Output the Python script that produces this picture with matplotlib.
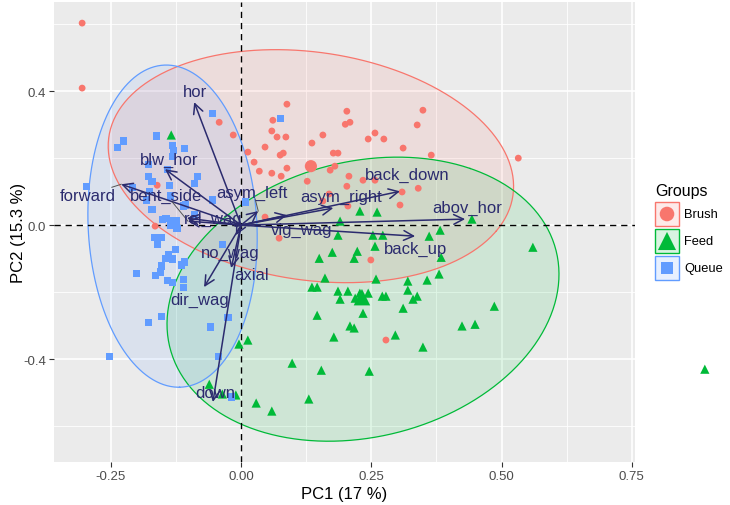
import numpy as np
import matplotlib
matplotlib.use("Agg")
import matplotlib.pyplot as plt
from matplotlib.patches import Rectangle

plt.rcParams['font.family'] = ['Liberation Sans', 'DejaVu Sans']

# ---------------- data ----------------
groups = ["Brush", "Feed", "Queue"]
colors = ["#F8766D", "#00BA38", "#619CFF"]
markers = ["o", "^", "s"]

brush_pc1 = [0.088, 0.203, 0.349, 0.061, 0.200, 0.209, 0.338, 0.059, 0.069, 0.086,
             0.157, 0.244, 0.257, 0.274, 0.136, 0.046, 0.013, 0.311, 0.075, 0.081,
             0.177, 0.186, 0.365, 0.532, 0.025, 0.088, 0.171, 0.180, 0.035, 0.059,
             0.077, 0.127, 0.207, 0.203, 0.234, 0.257, 0.340, 0.309, 0.169, 0.305,
             0.157, 0.205, 0.046, 0.073, 0.249, 0.278, -0.161, -0.042, -0.015, -0.165,
             -0.305, -0.305]
brush_pc2 = [0.361, 0.340, 0.343, 0.313, 0.301, 0.307, 0.299, 0.281, 0.263, 0.263,
             0.269, 0.257, 0.275, 0.257, 0.245, 0.233, 0.218, 0.230, 0.209, 0.215,
             0.215, 0.215, 0.209, 0.200, 0.188, 0.170, 0.164, 0.176, 0.161, 0.155,
             0.146, 0.131, 0.146, 0.116, 0.134, 0.134, 0.110, 0.099, 0.093, 0.060,
             0.072, 0.057, 0.024, -0.039, -0.104, -0.343, 0.119, 0.307, 0.269, -0.003,
             0.409, 0.603]

feed_pc1 = [-0.134, 0.228, 0.261, 0.190, 0.443, 0.382, 0.361, 0.560, 0.186, 0.253,
            0.272, 0.257, 0.223, 0.217, 0.175, 0.150, 0.384, 0.380, 0.161, 0.259,
            0.320, 0.357, 0.136, 0.146, 0.186, 0.205, 0.320, 0.190, 0.219, 0.228,
            0.234, 0.244, 0.271, 0.278, 0.330, 0.338, 0.311, 0.486, 0.146, 0.234,
            0.209, 0.217, 0.424, 0.449, 0.178, 0.296, 0.349, 0.154, 0.246, 0.130,
            0.013, -0.004, 0.098, 0.029, 0.059, -0.061, -0.010, 0.890, -0.036]
feed_pc2 = [0.269, 0.042, 0.039, 0.012, 0.018, -0.015, -0.033, -0.066, -0.030, -0.030,
            -0.030, -0.063, -0.078, -0.099, -0.081, -0.099, -0.096, -0.146, -0.158, -0.161,
            -0.167, -0.164, -0.185, -0.185, -0.197, -0.197, -0.194, -0.221, -0.218, -0.203,
            -0.221, -0.203, -0.212, -0.212, -0.221, -0.212, -0.248, -0.242, -0.269, -0.263,
            -0.301, -0.307, -0.301, -0.296, -0.334, -0.328, -0.364, -0.433, -0.436, -0.519,
            -0.343, -0.355, -0.412, -0.531, -0.555, -0.475, -0.507, -0.430, -0.504]

queue_pc1 = [-0.054, 0.075, -0.225, -0.238, -0.163, -0.132, -0.109, -0.130, -0.132, -0.177,
             -0.142, -0.178, -0.171, -0.138, -0.084, -0.090, -0.297, -0.209, -0.175, -0.182,
             -0.171, -0.111, -0.054, -0.090, 0.008, -0.144, -0.127, -0.123, -0.167, -0.152,
             -0.125, -0.161, -0.035, -0.140, -0.144, -0.132, -0.109, -0.115, -0.201, -0.165,
             -0.154, -0.152, -0.142, -0.132, -0.111, -0.177, -0.152, -0.058, -0.025, -0.253,
             -0.044, -0.019, -0.106, -0.150, -0.136, -0.111]
queue_pc2 = [0.334, 0.319, 0.251, 0.233, 0.266, 0.239, 0.230, 0.224, 0.206, 0.182,
             0.167, 0.146, 0.131, 0.119, 0.146, 0.125, 0.116, 0.113, 0.101, 0.075,
             0.048, 0.057, 0.075, 0.033, 0.069, 0.021, 0.003, -0.009, -0.036, -0.036,
             -0.072, -0.057, -0.057, -0.087, -0.099, -0.101, -0.110, -0.119, -0.143, -0.149,
             -0.140, -0.122, -0.164, -0.170, -0.161, -0.290, -0.272, -0.304, -0.275, -0.391,
             -0.391, -0.513, 0.060, 0.018, 0.087, -0.185]

# group means
mean_pc1 = [0.134, 0.232, -0.130]
mean_pc2 = [0.176, -0.215, 0.006]

# 95% ellipses: centre, semi-axes, rotation (deg) in data units
ell_cx = [0.134, 0.234, -0.1315]
ell_cy = [0.176, -0.221, -0.003]
ell_a = [0.405, 0.441, 0.481]
ell_b = [0.329, 0.356, 0.162]
ell_theta = [-28.5, 62.2, -88.4]

# variable loadings (arrow tips)
var_names = ["hor", "blw_hor", "forward", "bent_side", "rel_wag", "asym_left",
             "asym_right", "back_down", "abov_hor", "vig_wag", "back_up", "no_wag",
             "axial", "dir_wag", "down"]
var_pc1 = [-0.090, -0.146, -0.230, -0.102, -0.104, 0.033, 0.177, 0.305, 0.430, 0.088,
           0.334, -0.010, -0.019, -0.071, -0.054]
var_pc2 = [0.367, 0.167, 0.122, 0.012, 0.021, 0.042, 0.051, 0.101, 0.018, 0.030,
           -0.033, -0.030, -0.128, -0.185, -0.528]
# repelled label positions
lab_pc1 = [-0.088, -0.138, -0.294, -0.144, -0.054, 0.021, 0.192, 0.319, 0.434, 0.117,
           0.334, -0.021, 0.021, -0.079, -0.050]
lab_pc2 = [0.400, 0.197, 0.087, 0.090, 0.021, 0.099, 0.087, 0.152, 0.054, -0.012,
           -0.069, -0.081, -0.146, -0.221, -0.499]

x_ticks = [-0.25, 0.0, 0.25, 0.5, 0.75]
x_ticklabels = ["-0.25", "0.00", "0.25", "0.50", "0.75"]
y_ticks = [-0.4, 0.0, 0.4]
y_ticklabels = ["-0.4", "0.0", "0.4"]

# ---------------- figure ----------------
W, H = 730, 506
fig = plt.figure(figsize=(W / 100, H / 100), dpi=100)
fig.patch.set_facecolor("white")
ax = fig.add_axes([54 / W, 43 / H, 581 / W, 460 / H])
ax.set_facecolor("#EBEBEB")
ax.set_xlim(-0.359, 0.756)
ax.set_ylim(-0.707, 0.666)
for s in ax.spines.values():
    s.set_visible(False)

ax.set_xticks(x_ticks)
ax.set_xticklabels(x_ticklabels)
ax.set_yticks(y_ticks)
ax.set_yticklabels(y_ticklabels)
ax.set_xticks([-0.125, 0.125, 0.375, 0.625], minor=True)
ax.set_yticks([-0.6, -0.2, 0.2, 0.6], minor=True)
ax.grid(which="major", color="white", lw=1.2)
ax.grid(which="minor", color="white", lw=0.6)
ax.set_axisbelow(True)
ax.tick_params(which="major", length=3.5, width=0.8, color="#333333",
               labelcolor="#4D4D4D", labelsize=9.5, pad=2)
ax.tick_params(which="minor", length=0)

ax.set_xlabel("PC1 (17 %)", fontsize=12, labelpad=3)
ax.set_ylabel("PC2 (15.3 %)", fontsize=12, labelpad=-2)

# ellipses
t = np.linspace(0, 2 * np.pi, 300)
for i in range(3):
    th = np.deg2rad(ell_theta[i])
    ex = ell_cx[i] + ell_a[i] * np.cos(th) * np.cos(t) - ell_b[i] * np.sin(th) * np.sin(t)
    ey = ell_cy[i] + ell_a[i] * np.sin(th) * np.cos(t) + ell_b[i] * np.cos(th) * np.sin(t)
    ax.fill(ex, ey, color=colors[i], alpha=0.12, lw=0, zorder=1)
    ax.plot(ex, ey, color=colors[i], lw=0.9, zorder=2)

ax.axhline(0, color="black", ls=(0, (4.5, 3.5)), lw=1.0, zorder=2.5)
ax.axvline(0, color="black", ls=(0, (4.5, 3.5)), lw=1.0, zorder=2.5)

pts = [(brush_pc1, brush_pc2), (feed_pc1, feed_pc2), (queue_pc1, queue_pc2)]
sizes = [24, 44, 26]
for i, (px, py) in enumerate(pts):
    ax.scatter(px, py, s=sizes[i], marker=markers[i], color=colors[i],
               edgecolors="none", zorder=3, clip_on=False)
    ax.scatter([mean_pc1[i]], [mean_pc2[i]], s=sizes[i] * 3.2, marker=markers[i],
               color=colors[i], edgecolors="none", zorder=3)

# arrows
arrow_col = "#2B2B6E"
seg_from = {"forward": (-0.248, 0.113), "bent_side": (-0.132, 0.069),
            "asym_left": (0.027, 0.078)}
for name, vx, vy, lx, ly in zip(var_names, var_pc1, var_pc2, lab_pc1, lab_pc2):
    ax.annotate("", xy=(vx, vy), xytext=(0, 0),
                arrowprops=dict(arrowstyle="->,head_length=0.5,head_width=0.25",
                                color=arrow_col, lw=1.1, shrinkA=0, shrinkB=0,
                                mutation_scale=14), zorder=4)
    if name in seg_from:
        sx, sy = seg_from[name]
        ax.plot([sx, vx], [sy, vy], color="#555555", lw=0.7, zorder=4)
    ax.text(lx, ly, name, ha="center", va="center", color=arrow_col,
            fontsize=12, zorder=5)

# legend (manual, in pixel space)
lax = fig.add_axes([640 / W, (H - 290) / H, 90 / W, 115 / H])
lax.set_xlim(640, 730)
lax.set_ylim(290, 175)
lax.axis("off")
lax.text(655, 191, "Groups", fontsize=11.5, ha="left", va="center")
key_y = [215, 242, 269]
key_sizes = [110, 170, 75]
for i in range(3):
    lax.add_patch(Rectangle((655, key_y[i] - 12), 24, 24, facecolor=colors[i],
                            alpha=0.15, edgecolor="none"))
    lax.add_patch(Rectangle((655, key_y[i] - 12), 24, 24, facecolor="none",
                            edgecolor=colors[i], lw=1.0))
    lax.scatter([667], [key_y[i]], s=key_sizes[i], marker=markers[i],
                color=colors[i], edgecolors="none")
    lax.text(684, key_y[i], groups[i], fontsize=9.3, ha="left", va="center")

fig.savefig("out.png", dpi=100)
